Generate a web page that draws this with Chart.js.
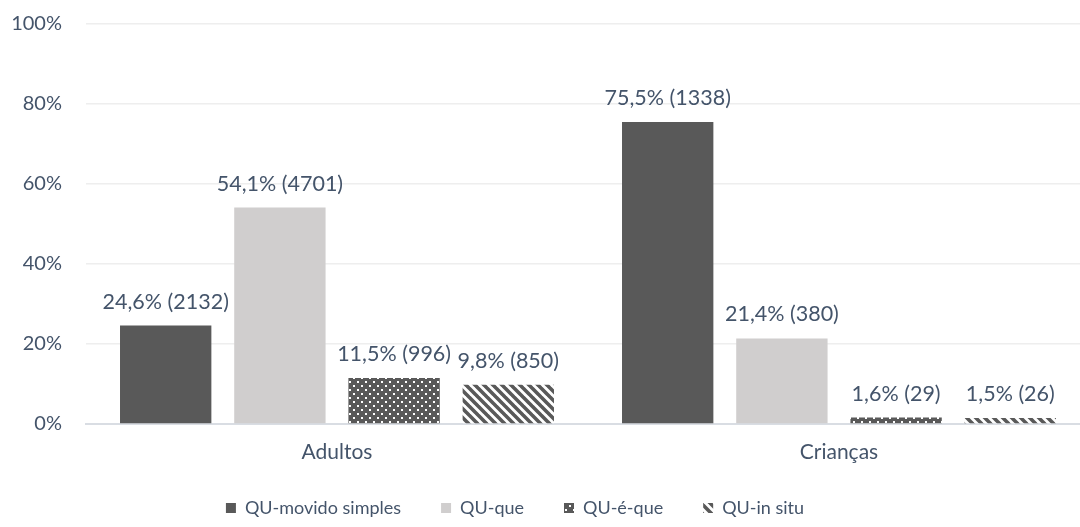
<!DOCTYPE html>
<html>
<head>
<meta charset="utf-8">
<script src="https://cdn.jsdelivr.net/npm/chart.js@4.4.0/dist/chart.umd.min.js"></script>
<style>
  html, body { margin: 0; padding: 0; background: #fff; }
  #wrap { width: 1080px; height: 527px; }
</style>
</head>
<body>
<div id="wrap"><canvas id="chart" width="1080" height="527"></canvas></div>
<script>
// Data
const categories = ['Adultos', 'Crianças'];
const seriesNames = ['QU-movido simples', 'QU-que', 'QU-é-que', 'QU-in situ'];
const percentValues = [
  [24.6, 75.5],  // QU-movido simples
  [54.1, 21.4],  // QU-que
  [11.5, 1.6],   // QU-é-que
  [9.8, 1.5]     // QU-in situ
];
const countValues = [
  [2132, 1338],
  [4701, 380],
  [996, 29],
  [850, 26]
];
const yTicks = [0, 20, 40, 60, 80, 100];

const textColor = '#44546A';
const fontFamily = 'Lato, "Open Sans", sans-serif';
const darkGray = '#595959';
const lightGray = '#D0CECE';

// Dotted pattern: dark background with white dots
function makeDotPattern() {
  const c = document.createElement('canvas');
  c.width = 8; c.height = 8;
  const g = c.getContext('2d');
  g.fillStyle = darkGray;
  g.fillRect(0, 0, 8, 8);
  g.fillStyle = '#ffffff';
  g.fillRect(1, 1, 2, 2);
  g.fillRect(5, 5, 2, 2);
  return g.createPattern(c, 'repeat');
}

// Diagonal stripes going down to the right
function makeStripePattern() {
  const size = 9;
  const c = document.createElement('canvas');
  c.width = size; c.height = size;
  const g = c.getContext('2d');
  g.fillStyle = '#ffffff';
  g.fillRect(0, 0, size, size);
  g.strokeStyle = darkGray;
  g.lineWidth = 3.6;
  g.beginPath();
  for (let k = -1; k <= 1; k++) {
    g.moveTo(k * size - 1, -1);
    g.lineTo(k * size + size + 1, size + 1);
  }
  g.stroke();
  return g.createPattern(c, 'repeat');
}

const fills = [darkGray, lightGray, makeDotPattern(), makeStripePattern()];

function formatPct(v) {
  return v.toFixed(1).replace('.', ',') + '%';
}

// Draw "xx,x% (n)" above each bar
const barLabels = {
  id: 'barLabels',
  afterDatasetsDraw(chart) {
    const ctx = chart.ctx;
    ctx.save();
    ctx.font = '21.5px ' + fontFamily;
    ctx.fillStyle = textColor;
    ctx.textAlign = 'center';
    ctx.textBaseline = 'alphabetic';
    chart.data.datasets.forEach((ds, i) => {
      const meta = chart.getDatasetMeta(i);
      meta.data.forEach((bar, j) => {
        const label = formatPct(percentValues[i][j]) + ' (' + countValues[i][j] + ')';
        ctx.fillText(label, bar.x, bar.y - 17);
      });
    });
    ctx.restore();
  }
};

// Stretch the plot a bit past the right edge (like the original's plot area)
// and nudge the legend left, as in the original
const layoutTweaks = {
  id: 'layoutTweaks',
  afterLayout(chart) {
    const xs = chart.scales.x;
    xs.right += 10;
    xs.width += 10;
    xs.configure();
    chart.chartArea.right += 10;
    chart.chartArea.width += 10;
    chart.legend.left -= 25;
    chart.legend.right -= 25;
  }
};

const datasets = seriesNames.map((name, i) => ({
  label: name,
  data: percentValues[i],
  backgroundColor: fills[i],
  borderWidth: 0,
  categoryPercentage: 0.91,
  barPercentage: 0.8
}));

new Chart(document.getElementById('chart'), {
  type: 'bar',
  data: { labels: categories, datasets: datasets },
  plugins: [barLabels, layoutTweaks],
  options: {
    responsive: false,
    animation: false,
    layout: { padding: { top: 0, right: 0, left: 0, bottom: 0 } },
    scales: {
      x: {
        grid: { display: false, drawTicks: false },
        border: { color: '#D9DDE3', width: 2 },
        ticks: { color: textColor, font: { family: fontFamily, size: 21 }, padding: 16 },
        afterFit: axis => {
          axis.height = 35;
          axis._computeLabelArea = () => undefined; // don't clip the labels to the short axis box
        }
      },
      y: {
        min: 0,
        max: 100,
        afterBuildTicks: axis => { axis.ticks = yTicks.map(v => ({ value: v })); },
        afterFit: axis => {
          axis.width = 86;
          axis.paddingTop = 24;
          axis.paddingBottom = 0;
        },
        grid: { color: '#EEEEEE', lineWidth: 1.5, drawTicks: false },
        border: { display: false },
        ticks: {
          color: textColor,
          font: { family: fontFamily, size: 20 },
          padding: 24,
          callback: v => v + '%'
        }
      }
    },
    plugins: {
      legend: {
        position: 'bottom',
        labels: {
          color: textColor,
          font: { family: fontFamily, size: 18 },
          boxWidth: 10,
          boxHeight: 10,
          padding: 40
        }
      },
      tooltip: { enabled: false }
    }
  }
});
</script>
</body>
</html>
